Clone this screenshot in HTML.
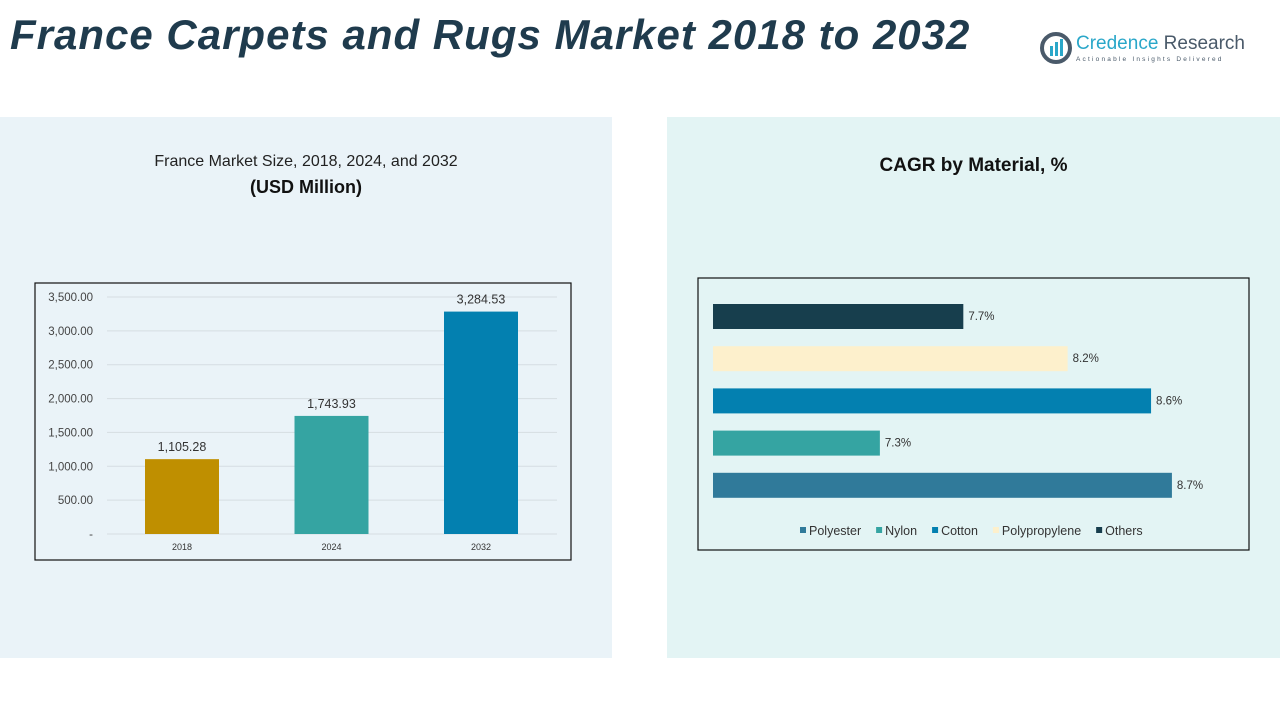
<!DOCTYPE html>
<html><head><meta charset="utf-8">
<style>
body{margin:0;width:1280px;height:720px;background:#fff;position:relative;overflow:hidden;font-family:"Liberation Sans",sans-serif;}
.abs{position:absolute;}
</style></head>
<body>
<div class="abs" style="left:10px;top:11px;font-size:42px;font-weight:bold;font-style:italic;color:#1f3b4d;letter-spacing:1px;">France Carpets and Rugs Market 2018 to 2032</div>
<div class="abs" style="left:1040px;top:30px;width:240px;height:40px;">
  <svg width="34" height="34" style="position:absolute;left:0px;top:2px"><circle cx="16" cy="16" r="14" fill="none" stroke="#4a5a6a" stroke-width="4"/><rect x="10" y="14" width="3" height="10" fill="#2aa7c9"/><rect x="15" y="10" width="3" height="14" fill="#2aa7c9"/><rect x="20" y="7" width="3" height="17" fill="#2aa7c9"/></svg>
  <div class="abs" style="left:36px;top:3px;font-size:19px;color:#2aa7c9;white-space:nowrap">Credence <span style="color:#4a5a6a">Research</span></div>
  <div class="abs" style="left:36px;top:26px;font-size:6.5px;color:#4a5a6a;letter-spacing:2.2px;white-space:nowrap">Actionable Insights Delivered</div>
</div>
<div class="abs" style="left:0;top:117px;width:612px;height:541px;background:#eaf3f8"></div>
<div class="abs" style="left:667px;top:117px;width:613px;height:541px;background:#e3f4f4"></div>
<div class="abs" style="left:0;top:153px;width:612px;text-align:center;font-size:16px;color:#222">France Market Size, 2018, 2024, and 2032</div>
<div class="abs" style="left:0;top:177px;width:612px;text-align:center;font-size:18px;font-weight:bold;color:#111">(USD Million)</div>
<div class="abs" style="left:667px;top:155px;width:613px;text-align:center;font-size:19px;font-weight:bold;color:#111">CAGR by Material, %</div>
<svg class="abs" style="left:0;top:0" width="1280" height="720" id="svg">
  <rect x="35" y="283" width="536" height="277" fill="none" stroke="#111" stroke-width="1.2"/>
  <rect x="698" y="278" width="551" height="272" fill="none" stroke="#111" stroke-width="1.2"/>
  <g id="left"></g><g id="right"></g>
</svg>
<script>
const years=["2018","2024","2032"];
const marketValues=[1105.28,1743.93,3284.53];
const yTicks=[0,500,1000,1500,2000,2500,3000,3500];
const yTickLabels=["-","500.00","1,000.00","1,500.00","2,000.00","2,500.00","3,000.00","3,500.00"];
const barColors=["#bf8f00","#35a4a2","#0380b0"];
const materials=["Others","Polypropylene","Cotton","Nylon","Polyester"];
const cagrValues=[7.7,8.2,8.6,7.3,8.7];
const matColors=["#173e4d","#fdf0cc","#0380b0","#35a4a2","#307a9a"];
const legendOrder=["Polyester","Nylon","Cotton","Polypropylene","Others"];
const NS="http://www.w3.org/2000/svg";
function mk(t,a,p){const e=document.createElementNS(NS,t);for(const k in a)e.setAttribute(k,a[k]);p.appendChild(e);return e;}
const L=document.getElementById('left');
const y=v=>534-v*(534-297)/3500;
const xc=i=>182+i*149.5;
yTicks.forEach((v,i)=>{
  const g=mk('line',{x1:107,x2:557,y1:y(v),y2:y(v),stroke:'#d5dde2','stroke-width':1},L);
  
  
  const t=mk('text',{x:93,y:y(v)+4,'text-anchor':'end','font-size':11.5,fill:'#444'},L);
  t.textContent=yTickLabels[i];
  
  
});
years.forEach((yr,i)=>{
  const r=mk('rect',{x:xc(i)-37,y:y(marketValues[i]),width:74,height:534-y(marketValues[i]),fill:barColors[i]},L);
  
  
  const t=mk('text',{x:xc(i),y:y(marketValues[i])-8,'text-anchor':'middle','font-size':12.5,fill:'#333'},L);
  t.textContent=marketValues[i].toLocaleString('en-US',{minimumFractionDigits:2});
  
  
  const xl=mk('text',{x:xc(i),y:550,'text-anchor':'middle','font-size':9,fill:'#333'},L);
  xl.textContent=yr;
  
  
});
const R=document.getElementById('right');
const xMin=6.5,pxPer=208.6,x0=713;
const bx=v=>x0+(v-xMin)*pxPer;
materials.forEach((m,i)=>{
  const cy=316+i*42.2;
  const r=mk('rect',{x:x0,y:cy-12,width:bx(cagrValues[i])-x0,height:25,fill:matColors[i]},R);
  
  
  const t=mk('text',{x:bx(cagrValues[i])+5,y:cy+4,'font-size':11.5,fill:'#333'},R);
  t.textContent=cagrValues[i].toFixed(1)+'%';
  
  
});
let lx=800;
legendOrder.forEach(m=>{
  const c=matColors[materials.indexOf(m)];
  const s=mk('rect',{x:lx,y:527,width:6,height:6,fill:c},R);
  
  
  const t=mk('text',{x:lx+9,y:535,'font-size':12.5,fill:'#333'},R);
  t.textContent=m;
  
  
  lx+=9+t.getComputedTextLength()+15;
});
</script>
</body></html>
